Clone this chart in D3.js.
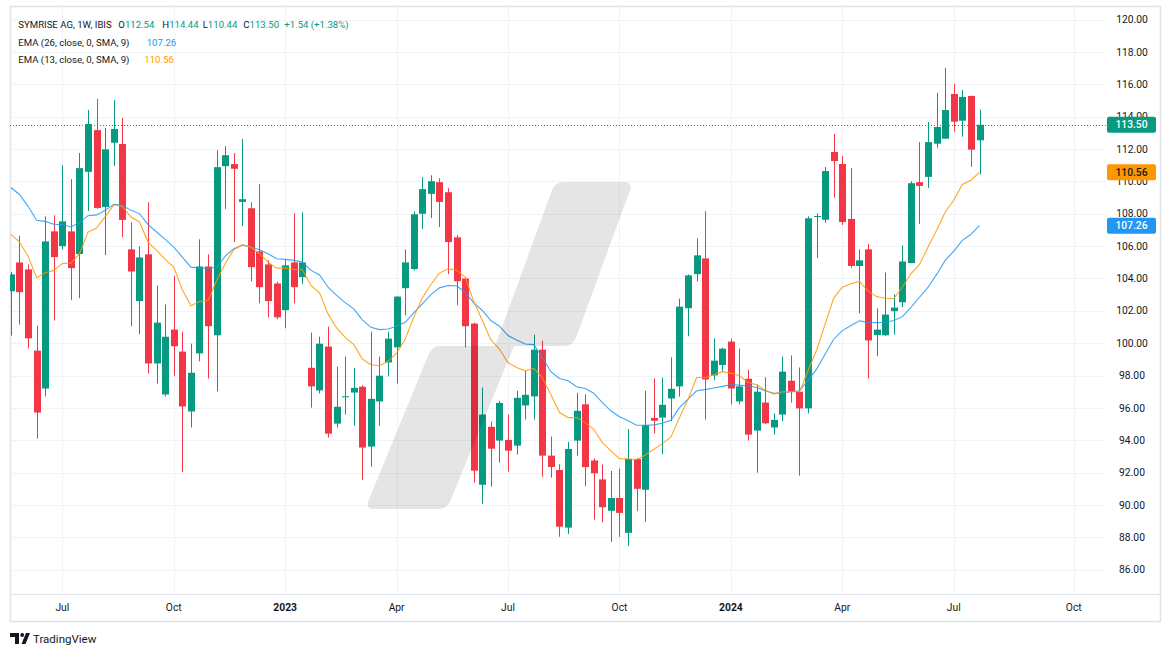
<!DOCTYPE html>
<html><head><meta charset="utf-8">
<script src="https://cdn.jsdelivr.net/npm/d3@7"></script>
<style>
html,body{margin:0;padding:0;background:#fff;}
svg{display:block;font-family:Roboto,"Noto Sans",Arial,sans-serif;}
</style></head><body>
<svg id="chart" width="1171" height="657"></svg>
<script>
// ---------- DATA (weekly bars, first bar = week of 2022-05-23) ----------
const startDate = "2022-05-23";
const opens = [103.21,104.99,104.56,99.54,97.20,106.91,106.00,106.91,105.51,110.59,113.17,108.42,112.39,112.31,105.80,102.60,105.49,98.75,96.83,100.84,99.48,95.78,99.37,104.74,100.49,110.94,111.07,108.73,108.34,105.67,104.87,103.69,102.04,104.99,104.08,98.48,97.08,99.79,95.03,96.69,96.95,97.31,93.61,96.40,98.81,99.74,103.40,104.58,108.00,109.23,109.95,109.33,106.54,104.00,101.21,91.25,94.83,93.98,94.02,93.67,96.15,96.71,99.60,93.05,92.16,88.60,93.98,96.22,92.75,91.58,89.64,90.43,88.28,92.84,90.94,95.38,95.40,96.58,97.33,102.16,104.27,105.24,98.01,98.65,100.10,96.40,97.80,94.60,96.33,94.79,95.59,97.68,97.00,95.97,107.80,107.63,111.82,111.08,107.68,104.77,105.80,100.50,100.49,101.98,102.53,104.95,109.95,110.28,112.33,112.64,115.40,113.75,115.28,112.54];
const highs = [104.40,106.64,104.87,101.09,107.84,107.90,111.00,110.14,111.75,114.41,115.10,113.30,115.03,113.92,107.47,105.98,108.71,103.57,102.39,104.17,100.71,99.97,106.42,105.49,111.93,112.18,111.75,112.62,108.71,109.83,105.12,103.80,105.18,108.03,108.09,100.65,100.40,101.02,98.55,99.17,98.48,97.40,100.71,99.17,100.71,102.90,105.80,108.15,110.26,110.38,110.20,109.58,106.67,104.05,101.27,97.26,95.16,96.44,95.59,97.06,98.30,100.53,100.16,94.23,92.52,93.90,96.93,96.84,92.88,92.50,92.10,92.24,94.70,92.90,97.06,97.82,97.88,99.12,102.76,104.25,106.48,108.15,100.28,99.72,100.28,99.66,98.36,97.45,97.90,95.66,99.17,99.24,98.50,107.84,108.03,110.89,112.93,111.57,110.83,105.80,106.13,102.15,104.37,103.01,106.05,110.01,112.43,113.67,115.47,117.02,116.02,115.65,115.30,114.44];
const lows = [100.47,101.15,99.68,94.10,96.71,101.40,105.80,102.66,102.78,108.17,108.30,105.45,110.96,106.56,101.05,100.55,98.13,97.51,96.71,97.99,92.04,94.79,98.88,97.82,97.02,108.30,106.25,107.24,103.83,102.47,101.60,101.48,100.92,102.47,103.67,96.02,96.89,94.17,94.79,95.59,94.91,91.56,92.37,94.91,97.95,97.51,101.73,104.50,107.06,107.74,107.18,104.27,102.35,99.74,91.38,90.07,91.13,92.62,92.06,93.11,95.28,95.28,91.75,91.69,88.04,88.21,93.05,91.15,89.10,88.93,87.72,88.03,87.45,89.62,88.96,94.43,93.13,95.19,96.70,100.43,103.83,95.28,97.71,98.28,96.21,96.21,93.98,92.00,95.00,94.35,95.19,96.33,91.81,95.66,105.27,107.45,108.99,107.31,104.67,101.85,97.82,99.20,100.45,100.53,102.22,104.95,107.37,109.60,112.08,112.64,113.07,112.76,110.90,110.44];
const closes = [104.25,103.15,100.30,95.71,106.29,105.32,107.53,104.64,110.82,113.55,108.36,111.98,113.24,107.62,104.43,105.30,98.75,101.27,100.40,99.81,96.09,98.17,104.74,101.05,110.88,111.62,110.78,108.90,104.70,103.46,102.60,101.60,104.81,103.46,104.99,97.33,99.97,94.41,96.07,96.72,97.24,93.55,96.56,97.99,100.28,102.88,104.99,107.97,109.52,110.01,108.73,106.25,103.83,101.05,92.12,95.59,93.48,96.31,93.36,96.62,96.81,99.60,93.05,92.35,88.66,93.46,95.82,92.34,91.96,89.86,90.43,89.51,92.84,91.00,94.93,95.21,96.19,97.18,102.26,104.19,105.43,97.76,98.92,99.66,97.20,97.33,94.35,97.00,95.05,95.26,98.24,97.02,95.97,107.72,107.86,110.64,111.26,107.49,104.77,105.12,100.17,100.84,101.77,102.20,105.05,109.89,109.72,112.43,113.36,114.41,113.69,115.22,111.96,113.50];
const ema26 = [109.62,109.19,108.46,107.60,107.53,107.35,107.33,107.18,107.45,107.88,107.93,108.21,108.59,108.52,108.21,108.01,107.33,106.87,106.42,105.94,105.32,104.70,104.64,104.64,104.68,105.38,105.84,106.05,105.94,105.78,105.53,105.22,105.18,105.12,105.01,104.50,104.23,103.46,102.95,102.51,102.12,101.44,100.98,100.84,100.88,101.05,101.29,101.87,102.43,103.00,103.42,103.57,103.55,103.15,102.49,102.02,101.40,101.05,100.47,100.20,99.95,99.91,99.12,98.24,97.82,97.68,97.31,97.20,96.91,96.33,95.82,95.45,95.20,94.93,94.93,94.95,95.05,95.24,96.02,96.54,97.06,97.13,97.23,97.33,97.43,97.41,97.35,97.26,97.06,96.91,96.93,97.00,97.06,97.72,98.40,99.33,100.26,100.78,101.09,101.38,101.29,101.27,101.29,101.40,101.64,102.22,102.84,103.46,104.25,105.12,105.69,106.36,106.73,107.26];
const ema13 = [106.73,106.25,105.38,104.04,104.35,104.50,104.93,104.95,105.53,106.87,107.12,107.82,108.55,108.46,107.80,107.49,106.25,105.74,105.18,104.70,103.30,102.31,102.57,102.64,103.88,104.91,105.78,106.09,105.94,105.53,105.01,104.64,104.64,104.56,104.54,103.57,103.11,101.81,100.94,100.36,99.91,99.02,98.67,98.61,98.88,99.39,100.26,101.60,102.80,103.63,104.33,104.60,104.50,104.08,102.57,101.40,100.20,99.64,98.79,98.50,98.30,98.44,97.88,96.81,95.71,95.40,95.40,95.09,94.68,93.86,93.34,92.86,92.86,92.80,93.09,93.44,93.79,94.21,95.40,96.54,97.88,97.88,98.05,98.24,98.15,97.99,97.57,97.43,97.10,96.85,97.00,97.00,97.00,98.30,99.58,101.19,102.80,103.46,103.67,103.82,103.22,102.88,102.78,102.76,103.46,104.29,104.87,105.94,106.98,108.11,108.83,109.81,110.07,110.56];
const yTicks = [86,88,90,92,94,96,98,100,102,104,106,108,110,112,114,116,118,120];
const xTickLabels = ["Jul","Oct","2023","Apr","Jul","Oct","2024","Apr","Jul","Oct"];
const header = {name:"SYMRISE AG, 1W, IBIS", o:"112.54", h:"114.44", l:"110.44", c:"113.50", chg:"+1.54 (+1.38%)"};
const emaLabels = ["EMA (26, close, 0, SMA, 9)", "EMA (13, close, 0, SMA, 9)"];

// ---------- STYLE ----------
const UP="#089981", DOWN="#F23645", BLUE="#2196F3", ORANGE="#FF9800", TXT="#131722", GRID="#f0f3fa", FRAME="#e0e3eb";
const plot = {l:10, r:1106, t:6, b:594};

const svg = d3.select("#chart");
const x = d3.scaleLinear().domain([0, 113]).range([10.9, 979.5]);
const y = d3.scaleLinear().domain([86, 120]).range([569.7, 19.6]);

const t0 = new Date(startDate + "T00:00:00Z");
const dateOf = i => new Date(t0.getTime() + i*7*864e5);
const tickIdx = [];
for (let i = 0; x(i) <= plot.r; i++) {
  const d = dateOf(i);
  if (d.getUTCDate() <= 7 && d.getUTCMonth() % 3 === 0) tickIdx.push(i);
}

svg.append("rect").attr("width",1171).attr("height",657).attr("fill","#fff");

svg.append("clipPath").attr("id","clip").append("rect")
  .attr("x",plot.l).attr("y",plot.t).attr("width",plot.r-plot.l).attr("height",plot.b-plot.t);

// grid
const g = svg.append("g");
g.selectAll(".hg").data(yTicks).join("line")
  .attr("x1",plot.l).attr("x2",plot.r)
  .attr("y1",d=>Math.round(y(d))+0.5).attr("y2",d=>Math.round(y(d))+0.5)
  .attr("stroke",GRID).attr("stroke-width",1);
g.selectAll(".vg").data(tickIdx).join("line")
  .attr("x1",d=>Math.round(x(d))+0.5).attr("x2",d=>Math.round(x(d))+0.5)
  .attr("y1",plot.t).attr("y2",plot.b)
  .attr("stroke",GRID).attr("stroke-width",1);

// frame
svg.append("rect").attr("x",10.5).attr("y",6.5).attr("width",1150).attr("height",615)
  .attr("fill","none").attr("stroke",FRAME).attr("stroke-width",1.5);
svg.append("line").attr("x1",10).attr("x2",1161).attr("y1",594.5).attr("y2",594.5)
  .attr("stroke",FRAME).attr("stroke-width",1);

// candles
const bars = d3.range(closes.length);
const cg = svg.append("g").attr("clip-path","url(#clip)");
cg.selectAll(".wick").data(bars).join("rect")
  .attr("x",i=>Math.round(x(i)))
  .attr("width",1)
  .attr("y",i=>y(highs[i]))
  .attr("height",i=>Math.max(1,y(lows[i])-y(highs[i])))
  .attr("fill",i=>closes[i]>=opens[i]?UP:DOWN);
cg.selectAll(".body").data(bars).join("rect")
  .attr("x",i=>Math.round(x(i))-3)
  .attr("width",7)
  .attr("y",i=>y(Math.max(opens[i],closes[i])))
  .attr("height",i=>Math.max(1,Math.abs(y(opens[i])-y(closes[i]))))
  .attr("fill",i=>closes[i]>=opens[i]?UP:DOWN);

// EMA lines
const line = arr => d3.line().x((d,i)=>x(i)).y(d=>y(d))(arr);
cg.append("path").attr("d",line(ema26)).attr("fill","none").attr("stroke",BLUE).attr("stroke-width",1.1).attr("stroke-opacity",0.85);
cg.append("path").attr("d",line(ema13)).attr("fill","none").attr("stroke",ORANGE).attr("stroke-width",1.1).attr("stroke-opacity",0.85);

// last price dotted line
const last = closes[closes.length-1];
svg.append("line").attr("x1",plot.l).attr("x2",plot.r)
  .attr("y1",Math.round(y(last))+0.5).attr("y2",Math.round(y(last))+0.5)
  .attr("stroke",UP).attr("stroke-width",1).attr("stroke-dasharray","1,2");

// watermark overlay
function roundedPoly(pts, radii){
  let d="";
  const n=pts.length;
  for(let k=0;k<n;k++){
    const p=pts[k], a=pts[(k-1+n)%n], b=pts[(k+1)%n], r=radii[k];
    const v1=[a[0]-p[0],a[1]-p[1]], v2=[b[0]-p[0],b[1]-p[1]];
    const l1=Math.hypot(...v1), l2=Math.hypot(...v2);
    const s=[p[0]+v1[0]/l1*r, p[1]+v1[1]/l1*r], e=[p[0]+v2[0]/l2*r, p[1]+v2[1]/l2*r];
    d += (k===0?"M":"L")+s[0]+","+s[1]+" Q"+p[0]+","+p[1]+" "+e[0]+","+e[1];
  }
  return d+"Z";
}
const wm = [[365,509],[432,346],[495,346],[555,182],[633,182],[573,346],[514,346],[447,509]];
svg.append("path").attr("d",roundedPoly(wm,[9,9,0,9,9,9,0,9]))
  .attr("fill","#000").attr("fill-opacity",0.1);

// y axis labels
svg.selectAll(".yl").data(yTicks).join("text")
  .attr("x",1132).attr("y",d=>y(d)+3.6).attr("text-anchor","middle")
  .attr("font-size",10.3).attr("fill",TXT).text(d=>d.toFixed(2));

// price tags
const tags = [
  {v:last, bg:UP, fg:"#fff"},
  {v:ema13[ema13.length-1], bg:ORANGE, fg:"#131722"},
  {v:ema26[ema26.length-1], bg:BLUE, fg:"#fff"}
];
tags.forEach(t=>{
  const cy=y(t.v);
  svg.append("rect").attr("x",1107).attr("y",cy-8).attr("width",49).attr("height",16).attr("rx",2).attr("fill",t.bg);
  svg.append("text").attr("x",1131.5).attr("y",cy+3.7).attr("text-anchor","middle")
    .attr("font-size",10.3).attr("font-weight",500).attr("fill",t.fg).text(t.v.toFixed(2));
});

// x axis labels
svg.selectAll(".xl").data(tickIdx).join("text")
  .attr("x",d=>x(d)).attr("y",611).attr("text-anchor","middle")
  .attr("font-size",10.3).attr("fill",TXT)
  .attr("font-weight",(d,k)=>/^\d{4}$/.test(xTickLabels[k])?700:400)
  .text((d,k)=>xTickLabels[k]);

// legend
const fs=9.6;
const l1 = svg.append("text").attr("y",28).attr("font-size",fs).attr("fill",TXT);
l1.append("tspan").attr("x",18.3).text(header.name);
l1.append("tspan").attr("x",118.3).text("O");
l1.append("tspan").attr("fill",UP).text(header.o);
l1.append("tspan").attr("x",162.3).text("H");
l1.append("tspan").attr("fill",UP).text(header.h);
l1.append("tspan").attr("x",202.7).text("L");
l1.append("tspan").attr("fill",UP).text(header.l);
l1.append("tspan").attr("x",243.3).text("C");
l1.append("tspan").attr("fill",UP).text(header.c);
l1.append("tspan").attr("x",284.3).attr("fill",UP).text(header.chg);

const l2 = svg.append("text").attr("y",45.5).attr("font-size",fs).attr("fill",TXT);
l2.append("tspan").attr("x",18.3).text(emaLabels[0]);
l2.append("tspan").attr("x",146.7).attr("fill",BLUE).text(ema26[ema26.length-1].toFixed(2));
const l3 = svg.append("text").attr("y",62.5).attr("font-size",fs).attr("fill",TXT);
l3.append("tspan").attr("x",18.3).text(emaLabels[1]);
l3.append("tspan").attr("x",144.3).attr("fill",ORANGE).text(ema13[ema13.length-1].toFixed(2));

// TradingView footer
const lg = svg.append("g").attr("fill",TXT);
lg.append("path").attr("d","M10,633 H19 V644 H15 V637 H10 Z");
lg.append("circle").attr("cx",22.2).attr("cy",635).attr("r",1.9);
lg.append("path").attr("d","M21.5,644 L26,633 H30 L25.5,644 Z");
svg.append("text").attr("x",33).attr("y",643).attr("font-size",11.5).attr("fill",TXT).text("TradingView");
</script>
</body></html>
